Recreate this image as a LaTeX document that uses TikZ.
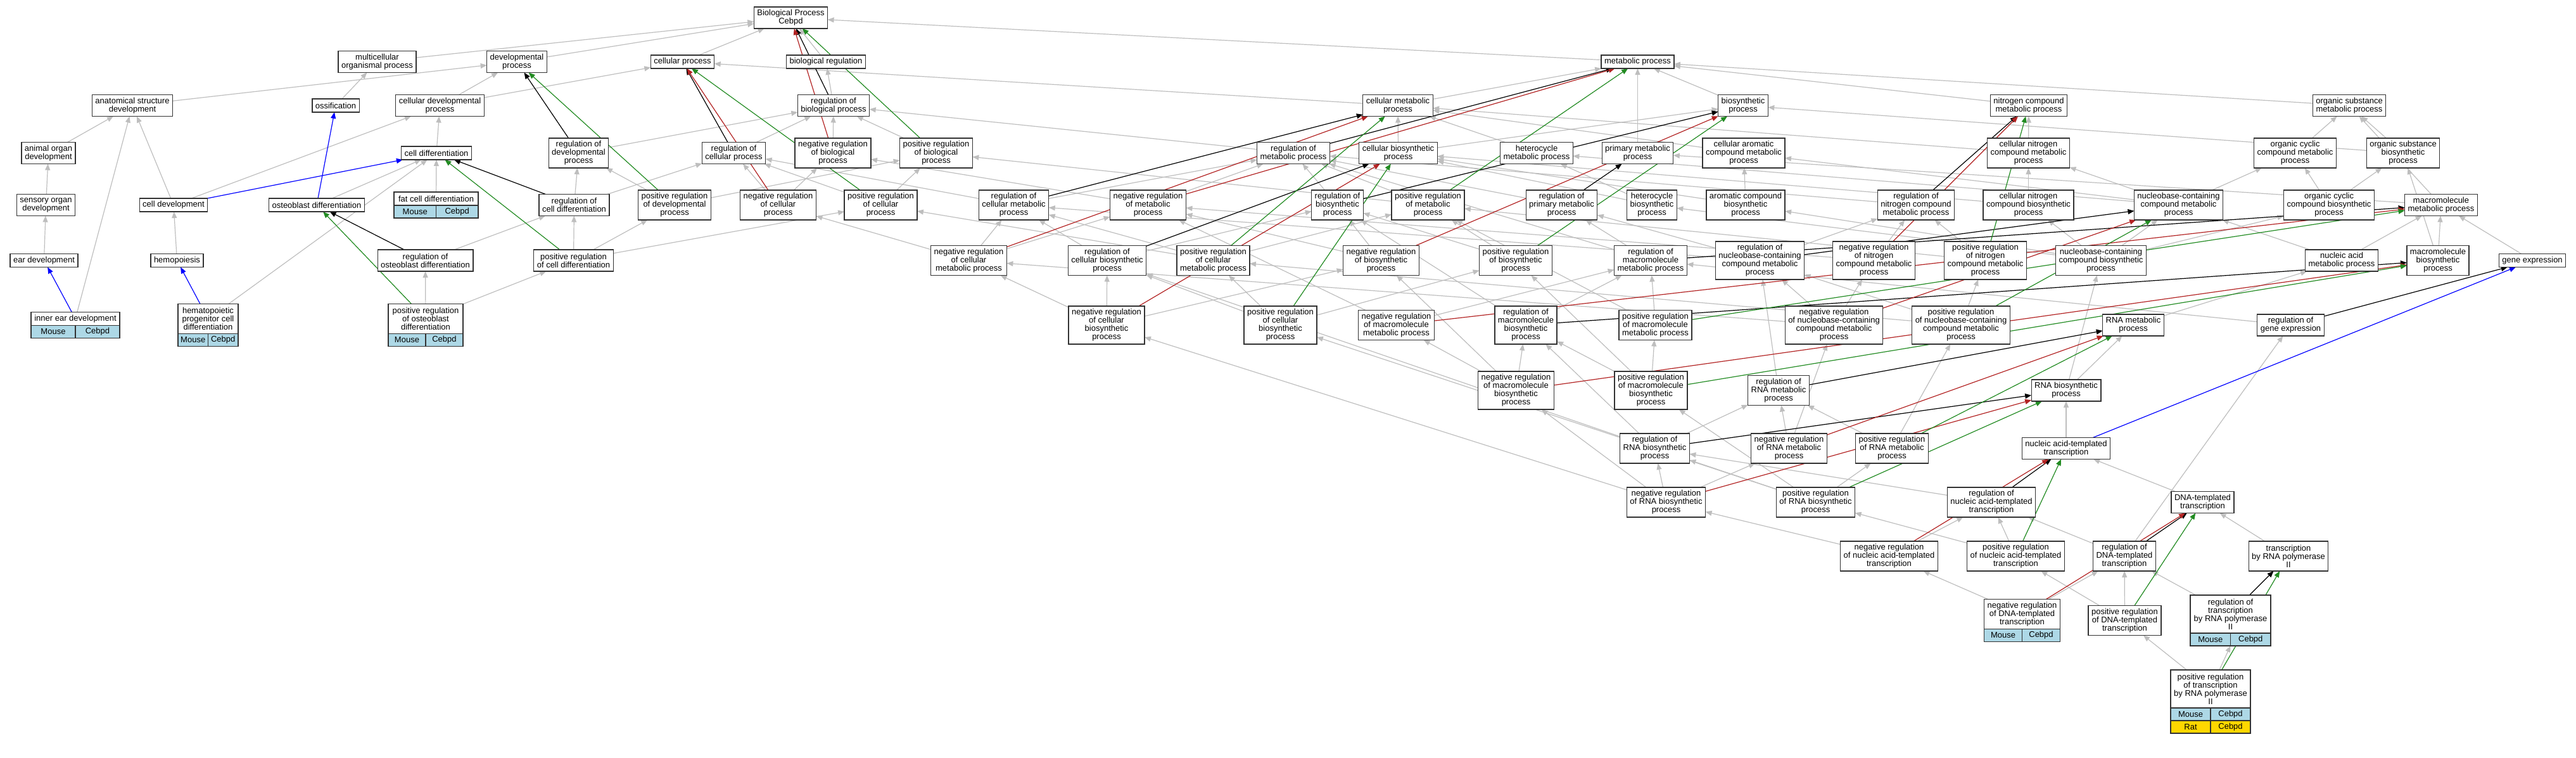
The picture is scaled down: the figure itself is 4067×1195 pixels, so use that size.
\documentclass[tikz,border=0pt]{standalone}
\usepackage{fontspec}
\setmainfont{Liberation Sans}
\usetikzlibrary{arrows.meta}
\definecolor{isagray}{RGB}{190,190,190}
\definecolor{negred}{RGB}{178,34,34}
\definecolor{posgreen}{RGB}{34,139,34}
\definecolor{mouseblue}{RGB}{173,216,230}
\definecolor{ratgold}{RGB}{255,215,0}
\pgfdeclarelayer{edges}
\pgfsetlayers{edges,main}
\begin{document}
\begin{tikzpicture}[x=1pt,y=-1pt,
    term/.style={draw=black!80,line width=1.3pt,fill=white,align=center,
      inner xsep=5pt,inner ysep=0pt,outer sep=0pt,font=\fontsize{13}{13}\selectfont},
    t1/.style={term,minimum height=21pt},
    t2/.style={term,minimum height=34pt},
    t3/.style={term,minimum height=47pt},
    t4/.style={term,minimum height=60pt},
    cell/.style={term,fill=mouseblue,minimum height=20pt,inner xsep=0pt},
    golink/.style={line width=1.2pt,-{Triangle[length=10pt,width=8pt]}},
    isalink/.style={golink,isagray},
    reglink/.style={golink,black},
    neglink/.style={golink,negred},
    poslink/.style={golink,posgreen},
    partlink/.style={golink,blue}]
      \useasboundingbox (0,0) rectangle (4067,1195);
      \draw
        (1248.5,28) node[t2] (bp) {Biological Process\\Cebpd}
        (595.5,97.5) node[t2] (mop) {multicellular\\organismal process}
        (816,97.5) node[t2] (dp) {developmental\\process}
        (1077.5,97.5) node[t1] (cp) {cellular process}
        (1304,97.5) node[t1] (br) {biological regulation}
        (2585.5,97.5) node[t1] (mp) {metabolic process};
      \draw
        (209,166.5) node[t2] (asd) {anatomical structure\\development}
        (530,166.5) node[t1] (oss) {ossification}
        (694.5,166.5) node[t2] (cdp) {cellular developmental\\process}
        (1316,166.5) node[t2] (rbp) {regulation of\\biological process}
        (2207,166.5) node[t2] (cmp) {cellular metabolic\\process}
        (2752,166.5) node[t2] (bsp) {biosynthetic\\process}
        (3203,166.5) node[t2] (ncmp) {nitrogen compound\\metabolic process}
        (3709,166.5) node[t2] (osmp) {organic substance\\metabolic process};
      \draw
        (76.5,241.5) node[t2] (aod) {animal organ\\development}
        (689,241.5) node[t1] (cdiff) {cell differentiation}
        (913.5,241.5) node[t3] (rdp) {regulation of\\developmental\\process}
        (1158.5,241.5) node[t2] (rcp) {regulation of\\cellular process}
        (1315,241.5) node[t3] (nrbp) {negative regulation\\of biological\\process}
        (1478,241.5) node[t3] (prbp) {positive regulation\\of biological\\process}
        (2042,241.5) node[t2] (rmp) {regulation of\\metabolic process}
        (2207.5,241.5) node[t2] (cbp) {cellular biosynthetic\\process}
        (2426,241.5) node[t2] (hmp) {heterocycle\\metabolic process}
        (2585.5,241.5) node[t2] (pmp) {primary metabolic\\process}
        (2753,241.5) node[t3] (camp) {cellular aromatic\\compound metabolic\\process}
        (3202.5,241.5) node[t3] (cncmp) {cellular nitrogen\\compound metabolic\\process}
        (3623.5,241.5) node[t3] (occmp) {organic cyclic\\compound metabolic\\process}
        (3794,241.5) node[t3] (osbp) {organic substance\\biosynthetic\\process};
      \draw
        (72.5,323.5) node[t2] (sod) {sensory organ\\development}
        (274,323.5) node[t1] (cdev) {cell development}
        (500,323.5) node[t1] (obd) {osteoblast differentiation}
        (688.5,313.5) node[t1,minimum width=133pt] (fcd) {fat cell differentiation}
        (906.5,323.5) node[t2] (rcd) {regulation of\\cell differentiation}
        (1065,323.5) node[t3] (prdp) {positive regulation\\of developmental\\process}
        (1228.5,323.5) node[t3] (nrcp) {negative regulation\\of cellular\\process}
        (1390.5,323.5) node[t3] (prcp) {positive regulation\\of cellular\\process}
        (1600.5,323.5) node[t3] (rcmp) {regulation of\\cellular metabolic\\process}
        (1812.5,323.5) node[t3] (nrmp) {negative regulation\\of metabolic\\process}
        (2111.5,323.5) node[t3] (rbsp) {regulation of\\biosynthetic\\process}
        (2254.5,323.5) node[t3] (prmp) {positive regulation\\of metabolic\\process}
        (2465.5,323.5) node[t3] (rpmp) {regulation of\\primary metabolic\\process}
        (2608,323.5) node[t3] (hbp) {heterocycle\\biosynthetic\\process}
        (2756,323.5) node[t3] (acbp) {aromatic compound\\biosynthetic\\process}
        (3025,323.5) node[t3] (rncmp) {regulation of\\nitrogen compound\\metabolic process}
        (3202.5,323.5) node[t3] (cncbp) {cellular nitrogen\\compound biosynthetic\\process}
        (3439.5,323.5) node[t3] (nbcmp) {nucleobase-containing\\compound metabolic\\process}
        (3677,323.5) node[t3] (occbp) {organic cyclic\\compound biosynthetic\\process}
        (3854,323.5) node[t2] (mmp) {macromolecule\\metabolic process};
      \draw
        (69.5,411) node[t1] (ed) {ear development}
        (279.5,411) node[t1] (hemo) {hemopoiesis}
        (671.5,411) node[t2] (rod) {regulation of\\osteoblast differentiation}
        (905.5,411) node[t2] (prcd) {positive regulation\\of cell differentiation}
        (1529.5,411) node[t3] (nrcmp) {negative regulation\\of cellular\\metabolic process}
        (1748,411) node[t3] (rcbp) {regulation of\\cellular biosynthetic\\process}
        (1915.5,411) node[t3] (prcmp) {positive regulation\\of cellular\\metabolic process}
        (2180.5,411) node[t3] (nrbsp) {negative regulation\\of biosynthetic\\process}
        (2393,411) node[t3] (prbsp) {positive regulation\\of biosynthetic\\process}
        (2606,411) node[t3] (rmmp) {regulation of\\macromolecule\\metabolic process}
        (2778.5,411) node[t4] (rnbcmp) {regulation of\\nucleobase-containing\\compound metabolic\\process}
        (2958.5,411) node[t4] (nrncmp) {negative regulation\\of nitrogen\\compound metabolic\\process}
        (3134.5,411) node[t4] (prncmp) {positive regulation\\of nitrogen\\compound metabolic\\process}
        (3317,411) node[t3] (nbcbp) {nucleobase-containing\\compound biosynthetic\\process}
        (3697,411) node[t2] (namp) {nucleic acid\\metabolic process}
        (3849,411) node[t3] (mbp) {macromolecule\\biosynthetic\\process}
        (3998,411) node[t1] (ge) {gene expression};
      \draw
        (119,503) node[t1,minimum width=140pt] (ied) {inner ear development}
        (328.5,503) node[t3,minimum width=95pt] (hpcd) {hematopoietic\\progenitor cell\\differentiation}
        (672,503) node[t3,minimum width=118pt] (prod) {positive regulation\\of osteoblast\\differentiation}
        (1747,513) node[t4] (nrcbp) {negative regulation\\of cellular\\biosynthetic\\process}
        (2021.5,513) node[t4] (prcbp) {positive regulation\\of cellular\\biosynthetic\\process}
        (2204.5,513) node[t3] (nrmmp) {negative regulation\\of macromolecule\\metabolic process}
        (2409,513) node[t4] (rmbp) {regulation of\\macromolecule\\biosynthetic\\process}
        (2613.5,513) node[t3] (prmmp) {positive regulation\\of macromolecule\\metabolic process}
        (2895.5,513) node[t4] (nrnbcmp) {negative regulation\\of nucleobase-containing\\compound metabolic\\process}
        (3096,513) node[t4] (prnbcmp) {positive regulation\\of nucleobase-containing\\compound metabolic\\process}
        (3368,513) node[t2] (rnamp) {RNA metabolic\\process}
        (3616.5,513) node[t2] (rge) {regulation of\\gene expression};
      \draw
        (2393.5,616) node[t4] (nrmbp) {negative regulation\\of macromolecule\\biosynthetic\\process}
        (2606.5,616) node[t4] (prmbp) {positive regulation\\of macromolecule\\biosynthetic\\process}
        (2808,616) node[t3] (rrnamp) {regulation of\\RNA metabolic\\process}
        (3262,616) node[t2] (rnabp) {RNA biosynthetic\\process}
        (2612.5,707.5) node[t3] (rrnabp) {regulation of\\RNA biosynthetic\\process}
        (2824.5,707.5) node[t3] (nrrnamp) {negative regulation\\of RNA metabolic\\process}
        (2987,707.5) node[t3] (prrnamp) {positive regulation\\of RNA metabolic\\process}
        (3262,707.5) node[t2] (natt) {nucleic acid-templated\\transcription}
        (2630.5,792.5) node[t3] (nrrnabp) {negative regulation\\of RNA biosynthetic\\process}
        (2866.5,792.5) node[t3] (prrnabp) {positive regulation\\of RNA biosynthetic\\process}
        (3144,792.5) node[t3] (rnatt) {regulation of\\nucleic acid-templated\\transcription}
        (3477.5,792.5) node[t2] (dtt) {DNA-templated\\transcription};
      \draw
        (2982.5,877.5) node[t3] (nrnatt) {negative regulation\\of nucleic acid-templated\\transcription}
        (3182.5,877.5) node[t3] (prnatt) {positive regulation\\of nucleic acid-templated\\transcription}
        (3354,877.5) node[t3] (rdtt) {regulation of\\DNA-templated\\transcription}
        (3613,877.5) node[t3] (trp) {transcription\\by RNA polymerase\\II}
        (3192.5,969) node[t3,minimum width=120pt] (nrdtt) {negative regulation\\of DNA-templated\\transcription}
        (3354.5,979) node[t3] (prdtt) {positive regulation\\of DNA-templated\\transcription}
        (3521.5,969) node[t4,minimum width=127pt] (rtrp) {regulation of\\transcription\\by RNA polymerase\\II}
        (3490,1087) node[t4,minimum width=126pt] (prtrp) {positive regulation\\of transcription\\by RNA polymerase\\II};
      \draw
        (fcd.south) node[cell,anchor=north east,minimum width=66.5pt] (fcdm) {Mouse}
        (fcd.south) node[cell,anchor=north west,minimum width=66.5pt] (fcdc) {Cebpd}
        (ied.south) node[cell,anchor=north east,minimum width=70pt] (iedm) {Mouse}
        (ied.south) node[cell,anchor=north west,minimum width=70pt] (iedc) {Cebpd}
        (hpcd.south) node[cell,anchor=north east,minimum width=47.5pt] (hpcdm) {Mouse}
        (hpcd.south) node[cell,anchor=north west,minimum width=47.5pt] (hpcdc) {Cebpd}
        (prod.south) node[cell,anchor=north east,minimum width=59pt] (prodm) {Mouse}
        (prod.south) node[cell,anchor=north west,minimum width=59pt] (prodc) {Cebpd}
        (nrdtt.south) node[cell,anchor=north east,minimum width=60pt] (nrdttm) {Mouse}
        (nrdtt.south) node[cell,anchor=north west,minimum width=60pt] (nrdttc) {Cebpd}
        (rtrp.south) node[cell,anchor=north east,minimum width=63.5pt] (rtrpm) {Mouse}
        (rtrp.south) node[cell,anchor=north west,minimum width=63.5pt] (rtrpc) {Cebpd}
        (prtrp.south) node[cell,anchor=north east,minimum width=63pt] (prtrpm) {Mouse}
        (prtrp.south) node[cell,anchor=north west,minimum width=63pt] (prtrpc) {Cebpd}
        (prtrpm.south east) node[cell,fill=ratgold,anchor=north east,minimum width=63pt] (prtrpr) {Rat}
        (prtrpm.south east) node[cell,fill=ratgold,anchor=north west,minimum width=63pt] (prtrpk) {Cebpd};
      \begin{pgfonlayer}{edges}
      \begin{scope}[isalink]
        \draw (mop) to (bp);
        \draw (dp) to (bp);
        \draw (cp) to (bp);
        \draw (br) to (bp);
        \draw (mp) to (bp);
        \draw (asd) to (dp);
        \draw (oss) to (mop);
        \draw (cdp) to (dp);
        \draw (cdp) to (cp);
        \draw (cdiff) to (cdp);
        \draw (aod) to (asd);
        \draw (sod) to (aod);
        \draw (ed) to (sod);
        \draw (ied) to (asd);
        \draw (cdev) to (asd);
        \draw (cdev) to (cdp);
        \draw (hemo) to (cdev);
        \draw (hpcd) to (cdiff);
        \draw (obd) to (cdiff);
        \draw (fcd) to (cdiff);
        \draw (rod) to (rcd);
        \draw (prod) to (rod);
        \draw (prod) to (prcd);
        \draw (rcd) to (rdp);
        \draw (rcd) to (rcp);
        \draw (prcd) to (rcd);
        \draw (prcd) to (prdp);
        \draw (prcd) to (prcp);
        \draw (rdp) to (rbp);
        \draw (prdp) to (rdp);
        \draw (prdp) to (prbp);
        \draw (rcp) to (rbp);
        \draw (nrcp) to (rcp);
        \draw (nrcp) to (nrbp);
        \draw (prcp) to (rcp);
        \draw (prcp) to (prbp);
        \draw (nrbp) to (rbp);
        \draw (prbp) to (rbp);
        \draw (rbp) to (br);
        \draw (cmp) to (mp);
        \draw (cmp) to (cp);
        \draw (bsp) to (mp);
        \draw (pmp) to (mp);
        \draw (ncmp) to (mp);
        \draw (osmp) to (mp);
        \draw (cbp) to (cmp);
        \draw (cbp) to (bsp);
        \draw (hmp) to (cmp);
        \draw (camp) to (cmp);
        \draw (cncmp) to (ncmp);
        \draw (cncmp) to (cmp);
        \draw (occmp) to (osmp);
        \draw (osbp) to (osmp);
        \draw (osbp) to (bsp);
        \draw (hbp) to (hmp);
        \draw (hbp) to (cbp);
        \draw (acbp) to (camp);
        \draw (acbp) to (cbp);
        \draw (cncbp) to (cncmp);
        \draw (cncbp) to (cbp);
        \draw (nbcmp) to (hmp);
        \draw (nbcmp) to (camp);
        \draw (nbcmp) to (cncmp);
        \draw (nbcmp) to (occmp);
        \draw (occbp) to (occmp);
        \draw (occbp) to (osbp);
        \draw (mmp) to (osmp);
        \draw (mmp) to (pmp);
        \draw (nbcbp) to (nbcmp);
        \draw (nbcbp) to (cncbp);
        \draw (nbcbp) to (occbp);
        \draw (nbcbp) to (hbp);
        \draw (nbcbp) to (acbp);
        \draw (namp) to (nbcmp);
        \draw (namp) to (mmp);
        \draw (mbp) to (mmp);
        \draw (mbp) to (osbp);
        \draw (ge) to (mmp);
        \draw (rnamp) to (namp);
        \draw (rnabp) to (rnamp);
        \draw (rnabp) to (nbcbp);
        \draw (natt) to (rnabp);
        \draw (dtt) to (natt);
        \draw (trp) to (dtt);
        \draw (rmp) to (rbp);
        \draw (nrmp) to (rmp);
        \draw (nrmp) to (nrbp);
        \draw (prmp) to (rmp);
        \draw (prmp) to (prbp);
        \draw (rcmp) to (rmp);
        \draw (rcmp) to (rcp);
        \draw (nrcmp) to (rcmp);
        \draw (nrcmp) to (nrmp);
        \draw (nrcmp) to (nrcp);
        \draw (prcmp) to (rcmp);
        \draw (prcmp) to (prmp);
        \draw (prcmp) to (prcp);
        \draw (rbsp) to (rmp);
        \draw (nrbsp) to (rbsp);
        \draw (nrbsp) to (nrmp);
        \draw (prbsp) to (rbsp);
        \draw (prbsp) to (prmp);
        \draw (rcbp) to (rbsp);
        \draw (rcbp) to (rcmp);
        \draw (nrcbp) to (rcbp);
        \draw (nrcbp) to (nrbsp);
        \draw (nrcbp) to (nrcmp);
        \draw (prcbp) to (rcbp);
        \draw (prcbp) to (prbsp);
        \draw (prcbp) to (prcmp);
        \draw (rpmp) to (rmp);
        \draw (rncmp) to (rmp);
        \draw (nrncmp) to (rncmp);
        \draw (nrncmp) to (nrmp);
        \draw (prncmp) to (rncmp);
        \draw (prncmp) to (prmp);
        \draw (rmmp) to (rmp);
        \draw (rmmp) to (rpmp);
        \draw (nrmmp) to (rmmp);
        \draw (nrmmp) to (nrmp);
        \draw (prmmp) to (rmmp);
        \draw (prmmp) to (prmp);
        \draw (rmbp) to (rmmp);
        \draw (rmbp) to (rbsp);
        \draw (nrmbp) to (rmbp);
        \draw (nrmbp) to (nrmmp);
        \draw (nrmbp) to (nrbsp);
        \draw (prmbp) to (rmbp);
        \draw (prmbp) to (prmmp);
        \draw (prmbp) to (prbsp);
        \draw (rnbcmp) to (rcmp);
        \draw (rnbcmp) to (rncmp);
        \draw (rnbcmp) to (rpmp);
        \draw (nrnbcmp) to (rnbcmp);
        \draw (nrnbcmp) to (nrncmp);
        \draw (nrnbcmp) to (nrcmp);
        \draw (prnbcmp) to (rnbcmp);
        \draw (prnbcmp) to (prncmp);
        \draw (prnbcmp) to (prcmp);
        \draw (rge) to (rmmp);
        \draw (rrnamp) to (rnbcmp);
        \draw (nrrnamp) to (rrnamp);
        \draw (nrrnamp) to (nrnbcmp);
        \draw (prrnamp) to (rrnamp);
        \draw (prrnamp) to (prnbcmp);
        \draw (rrnabp) to (rrnamp);
        \draw (rrnabp) to (rmbp);
        \draw (rrnabp) to (rcbp);
        \draw (nrrnabp) to (rrnabp);
        \draw (nrrnabp) to (nrrnamp);
        \draw (nrrnabp) to (nrmbp);
        \draw (nrrnabp) to (nrcbp);
        \draw (prrnabp) to (rrnabp);
        \draw (prrnabp) to (prrnamp);
        \draw (prrnabp) to (prmbp);
        \draw (prrnabp) to (prcbp);
        \draw (rnatt) to (rrnabp);
        \draw (nrnatt) to (rnatt);
        \draw (nrnatt) to (nrrnabp);
        \draw (prnatt) to (rnatt);
        \draw (prnatt) to (prrnabp);
        \draw (rdtt) to (rnatt);
        \draw (rdtt) to (rge);
        \draw (nrdtt) to (rdtt);
        \draw (nrdtt) to (nrnatt);
        \draw (prdtt) to (rdtt);
        \draw (prdtt) to (prnatt);
        \draw (rtrp) to (rdtt);
        \draw (prtrp) to (rtrpm.south east);
        \draw (prtrp) to (prdtt);
      \end{scope}
      \begin{scope}[reglink]
        \draw (rbp) to (bp);
        \draw (rdp) to (dp);
        \draw (rcp) to (cp);
        \draw (rcd) to (cdiff);
        \draw (rod) to (obd);
        \draw (rmp) to (mp);
        \draw (rcmp) to (cmp);
        \draw (rbsp) to (bsp);
        \draw (rcbp) to (cbp);
        \draw (rpmp) to (pmp);
        \draw (rncmp) to (ncmp);
        \draw (rmmp) to (mmp);
        \draw (rnbcmp) to (nbcmp);
        \draw (rmbp) to (mbp);
        \draw (rge) to (ge);
        \draw (rrnamp) to (rnamp);
        \draw (rrnabp) to (rnabp);
        \draw (rnatt) to (natt);
        \draw (rdtt) to (dtt);
        \draw (rtrp) to (trp);
      \end{scope}
      \begin{scope}[neglink]
        \draw (nrbp) to (bp);
        \draw (nrcp) to (cp);
        \draw (nrmp) to (mp);
        \draw (nrcmp) to (cmp);
        \draw (nrbsp) to (bsp);
        \draw (nrcbp) to (cbp);
        \draw (nrncmp) to (ncmp);
        \draw (nrmmp) to (mmp);
        \draw (nrnbcmp) to (nbcmp);
        \draw (nrmbp) to (mbp);
        \draw (nrrnamp) to (rnamp);
        \draw (nrrnabp) to (rnabp);
        \draw (nrnatt) to (natt);
        \draw (nrdtt) to (dtt);
      \end{scope}
      \begin{scope}[poslink]
        \draw (prbp) to (bp);
        \draw (prdp) to (dp);
        \draw (prcp) to (cp);
        \draw (prcd) to (cdiff);
        \draw (prod) to (obd);
        \draw (prmp) to (mp);
        \draw (prcmp) to (cmp);
        \draw (prbsp) to (bsp);
        \draw (prcbp) to (cbp);
        \draw (prncmp) to (ncmp);
        \draw (prmmp) to (mmp);
        \draw (prnbcmp) to (nbcmp);
        \draw (prmbp) to (mbp);
        \draw (prrnamp) to (rnamp);
        \draw (prrnabp) to (rnabp);
        \draw (prnatt) to (natt);
        \draw (prdtt) to (dtt);
        \draw (prtrp) to (trp);
      \end{scope}
      \begin{scope}[partlink]
        \draw (ied) to (ed);
        \draw (hpcd) to (hemo);
        \draw (obd) to (oss);
        \draw (cdev) to (cdiff);
        \draw (natt) to (ge);
      \end{scope}
      \end{pgfonlayer}
    \end{tikzpicture}
\end{document}
